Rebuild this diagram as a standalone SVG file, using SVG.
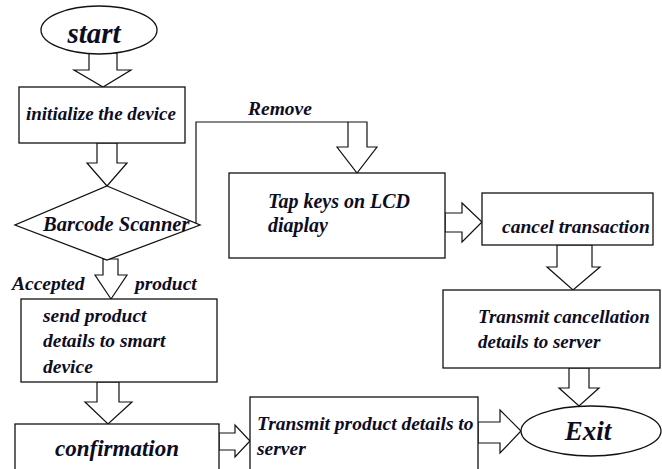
<svg xmlns="http://www.w3.org/2000/svg" width="662" height="469" viewBox="0 0 662 469">
<style>
.bx{fill:#fff;stroke:#111;stroke-width:1.3}
.ar{fill:#fff;stroke:#111;stroke-width:1.2;stroke-linejoin:miter}
.ln{fill:none;stroke:#111;stroke-width:1.2}
text{font-family:"Liberation Serif","Times New Roman",serif;font-weight:bold;font-style:italic;fill:#0d0d1f;font-size:19.5px}
</style>
<rect width="662" height="469" fill="#fff"/>
<g id="connectors">
<polygon class="ar" points="89,53 117,53 117,70 131,70 103,87 74,70 89,70"/>
<polygon class="ar" points="97,143 117,143 117,163 127,163 107,186 87,163 97,163"/>
<polygon class="ar" points="103,259 118,259 118,275 127,275 111,299 95,275 103,275"/>
<polygon class="ar" points="97,382 119,382 119,402 132,402 108,424 85,402 97,402"/>
<polygon class="ar" points="219,433 235,433 235,425 250,441 235,457 235,450 219,450"/>
<polygon class="ar" points="478,422 500,422 500,410 521,431 500,453 500,443 478,443"/>
<polyline class="ln" points="198,225 196,225 196,122 348,122"/>
<polygon class="ar" points="348,122 367,122 367,147 377,147 357,173 337,147 348,147"/>
<polygon class="ar" points="445,213 462,213 462,203 482,222 462,242 462,232 445,232"/>
<polygon class="ar" points="557,245 592,245 592,267 600,267 573,290 547,267 557,267"/>
<polygon class="ar" points="569,368 589,368 589,388 599,388 579,406 559,388 569,388"/>
<text x="248" y="115">Remove</text>
<text x="12" y="290">Accepted</text>
<text x="135" y="290">product</text>
</g>
<g id="start">
<ellipse class="bx" cx="99" cy="30" rx="58" ry="24"/>
<text x="94" y="43" text-anchor="middle" style="font-size:29px">start</text>
</g>
<g id="init">
<rect class="bx" x="19" y="87" width="166" height="56"/>
<text x="26" y="120" style="font-size:19px">initialize the device</text>
</g>
<g id="scanner">
<polygon class="bx" points="107,186 200,225 107,260 15,225"/>
<text x="43" y="231" style="font-size:20.5px">Barcode Scanner</text>
</g>
<g id="send">
<rect class="bx" x="21" y="299" width="196" height="83"/>
<text x="43" y="322">send product</text>
<text x="43" y="347">details to smart</text>
<text x="43" y="373">device</text>
</g>
<g id="confirmation">
<rect class="bx" x="15" y="424" width="204" height="60"/>
<text x="55" y="456" style="font-size:23px">confirmation</text>
</g>
<g id="tapkeys">
<rect class="bx" x="229" y="173" width="216" height="85"/>
<text x="268" y="208" style="font-size:20px">Tap keys on LCD</text>
<text x="268" y="232" style="font-size:20px">diaplay</text>
</g>
<g id="cancel">
<rect class="bx" x="482" y="193" width="171" height="52"/>
<text x="502" y="233">cancel transaction</text>
</g>
<g id="transmitcancel">
<rect class="bx" x="443" y="290" width="217" height="78"/>
<text x="478" y="323" style="font-size:19px">Transmit cancellation</text>
<text x="478" y="348" style="font-size:19px">details to server</text>
</g>
<g id="transmitproduct">
<rect class="bx" x="250" y="397" width="228" height="87"/>
<text x="257" y="430">Transmit product details to</text>
<text x="257" y="455">server</text>
</g>
<g id="exit">
<ellipse class="bx" cx="591" cy="431" rx="70" ry="25"/>
<text x="588" y="440" text-anchor="middle" style="font-size:27px">Exit</text>
</g>
</svg>
